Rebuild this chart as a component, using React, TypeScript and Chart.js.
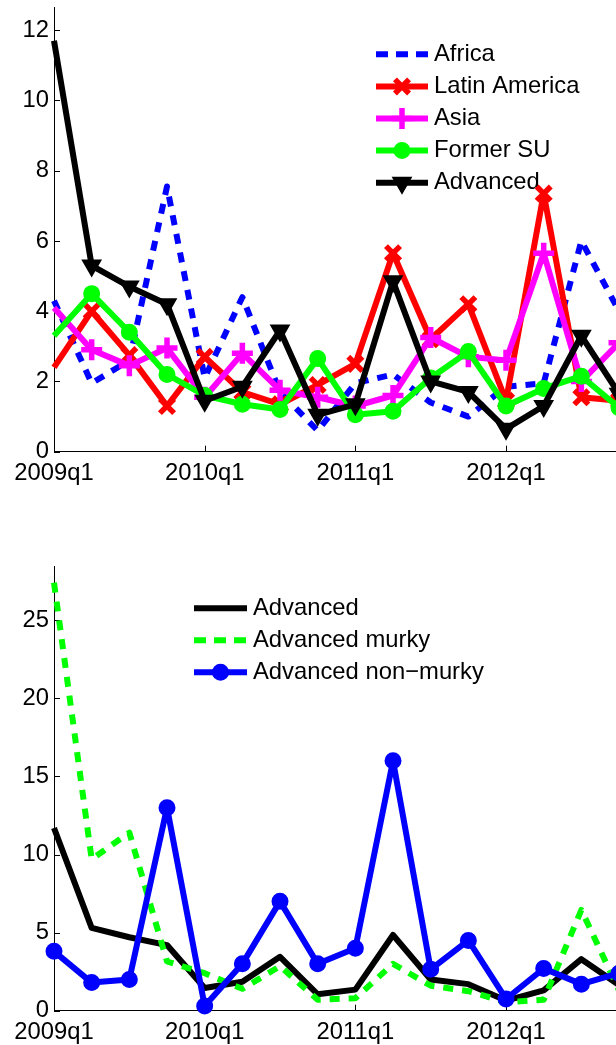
import React, { useEffect, useRef } from 'react';
import { Chart, registerables } from 'chart.js';

Chart.register(...registerables);

// ---------------- data ----------------
const quarters = [
  '2009q1', '2009q2', '2009q3', '2009q4',
  '2010q1', '2010q2', '2010q3', '2010q4',
  '2011q1', '2011q2', '2011q3', '2011q4',
  '2012q1', '2012q2', '2012q3', '2012q4',
];
const xTickPositions = [0, 4, 8, 12];
const xTickLabels = ['2009q1', '2010q1', '2011q1', '2012q1'];
const topYTicks = [0, 2, 4, 6, 8, 10, 12];
const bottomYTicks = [0, 5, 10, 15, 20, 25];

const africa = [4.3, 1.95, 2.6, 7.55, 2.1, 4.4, 1.7, 0.6, 1.95, 2.2, 1.4, 1.0, 1.85, 1.95, 6.0, 4.0];
const latinAmerica = [2.4, 4.0, 2.75, 1.3, 2.7, 1.7, 1.35, 1.9, 2.5, 5.65, 3.2, 4.2, 1.45, 7.35, 1.55, 1.45];
const asia = [4.1, 2.9, 2.45, 2.95, 1.55, 2.8, 1.75, 1.55, 1.3, 1.6, 3.25, 2.7, 2.6, 5.65, 2.0, 3.1];
const formerSU = [3.3, 4.5, 3.4, 2.2, 1.6, 1.35, 1.2, 2.65, 1.05, 1.15, 2.1, 2.85, 1.3, 1.8, 2.15, 1.25];
const advanced = [11.7, 5.3, 4.7, 4.2, 1.45, 1.85, 3.45, 1.05, 1.35, 4.85, 2.0, 1.7, 0.65, 1.3, 3.3, 1.65];
const advancedMurky = [27.4, 9.7, 11.4, 3.15, 2.4, 1.4, 2.85, 0.7, 0.8, 3.0, 1.6, 1.25, 0.55, 0.7, 6.45, 1.3];
const advancedNonMurky = [3.8, 1.8, 2.0, 13.0, 0.3, 3.0, 7.0, 3.0, 4.0, 16.0, 2.65, 4.5, 0.75, 2.7, 1.7, 2.4];

// ---------------- styling ----------------
const FONT_FAMILY = "'Liberation Sans', Arial, Helvetica, sans-serif";
const FONT_SIZE = 23.8;
const AXIS_COLOR = '#000000';
const TICK_LEN = 6;
const LINE_W = 6;

const toXY = (vals: number[]) => vals.map((v, i) => ({ x: i, y: v }));

function drawMarker(ctx: CanvasRenderingContext2D, style: string, x: number, y: number, r: number, bw: number, color: string, rotation: number) {
  ctx.save();
  ctx.lineWidth = bw;
  ctx.strokeStyle = color;
  ctx.fillStyle = color;
  ctx.setLineDash([]);
  ctx.beginPath();
  if (style === 'circle') {
    ctx.arc(x, y, r, 0, Math.PI * 2);
    ctx.fill();
    ctx.stroke();
  } else if (style === 'crossRot') {
    const d = r * Math.SQRT1_2;
    ctx.moveTo(x - d, y - d); ctx.lineTo(x + d, y + d);
    ctx.moveTo(x - d, y + d); ctx.lineTo(x + d, y - d);
    ctx.stroke();
  } else if (style === 'cross') {
    ctx.moveTo(x - r, y); ctx.lineTo(x + r, y);
    ctx.moveTo(x, y - r); ctx.lineTo(x, y + r);
    ctx.stroke();
  } else if (style === 'triangle') {
    let a = (rotation * Math.PI) / 180;
    for (let k = 0; k < 3; k++) {
      const px = x + Math.sin(a) * r;
      const py = y - Math.cos(a) * r;
      if (k === 0) ctx.moveTo(px, py); else ctx.lineTo(px, py);
      a += (2 * Math.PI) / 3;
    }
    ctx.closePath();
    ctx.fill();
    ctx.stroke();
  }
  ctx.restore();
}

const inwardTicks = {
  id: 'inwardTicks',
  beforeDatasetsDraw(chart: any) {
    const { ctx, chartArea, scales } = chart;
    ctx.save();
    ctx.strokeStyle = AXIS_COLOR;
    ctx.lineWidth = 1;
    ctx.beginPath();
    scales.x.ticks.forEach((t: any) => {
      const px = Math.round(scales.x.getPixelForValue(t.value)) + 0.5;
      ctx.moveTo(px, chartArea.bottom);
      ctx.lineTo(px, chartArea.bottom - TICK_LEN);
    });
    scales.y.ticks.forEach((t: any) => {
      const py = Math.round(scales.y.getPixelForValue(t.value)) + 0.5;
      ctx.moveTo(chartArea.left, py);
      ctx.lineTo(chartArea.left + TICK_LEN, py);
    });
    ctx.stroke();
    ctx.restore();
  },
};

const inlineLegend = {
  id: 'inlineLegend',
  beforeDatasetsDraw(chart: any, _args: any, opts: any) {
    const { ctx } = chart;
    const { x, y, rowH, sampleW, gap } = opts;
    chart.data.datasets.forEach((ds: any, i: number) => {
      const cy = y + i * rowH;
      ctx.save();
      ctx.strokeStyle = ds.borderColor;
      ctx.lineWidth = ds.borderWidth;
      ctx.lineCap = 'butt';
      ctx.setLineDash(ds.legendDash || []);
      ctx.beginPath();
      ctx.moveTo(x, cy);
      ctx.lineTo(x + sampleW, cy);
      ctx.stroke();
      ctx.restore();
      if (ds.legendRadius) {
        drawMarker(ctx, ds.pointStyle, x + sampleW / 2, cy, ds.legendRadius, ds.pointBorderWidth, ds.borderColor, ds.pointRotation || 0);
      }
      ctx.save();
      ctx.fillStyle = '#000';
      ctx.font = `${FONT_SIZE}px ${FONT_FAMILY}`;
      ctx.textBaseline = 'middle';
      ctx.textAlign = 'left';
      ctx.fillText(ds.label, x + sampleW + gap, cy);
      ctx.restore();
    });
  },
};

function lineDs(label: string, values: number[], color: string, order: number, extra: any = {}) {
  return {
    label,
    data: toXY(values),
    borderColor: color,
    backgroundColor: color,
    pointBackgroundColor: color,
    pointBorderColor: color,
    borderWidth: LINE_W,
    borderCapStyle: 'butt',
    borderJoinStyle: 'round',
    tension: 0,
    pointRadius: 0,
    pointHoverRadius: 0,
    clip: false,
    order,
    ...extra,
  };
}

function markerOpts(style: string, r: number, bw: number, skipFirst: boolean, rotation = 0) {
  return {
    pointStyle: style,
    pointRadius: (c: any) => (skipFirst && c.dataIndex === 0 ? 0 : r),
    pointBorderWidth: bw,
    pointRotation: rotation,
    legendRadius: r,
  };
}

function makeOptions(yMax: number, yTicks: number[], xAxisHeight: number, padTop: number, legend: any) {
  return {
    responsive: false,
    maintainAspectRatio: false,
    animation: false,
    events: [],
    layout: { autoPadding: false, padding: { top: padTop, right: 23.3, left: 0, bottom: 0 } },
    plugins: {
      legend: { display: false },
      tooltip: { enabled: false },
      inlineLegend: legend,
    },
    scales: {
      x: {
        type: 'linear',
        min: 0,
        max: 16,
        grid: { display: false, drawTicks: false },
        border: { display: true, color: AXIS_COLOR, width: 1 },
        afterBuildTicks: (s: any) => { s.ticks = xTickPositions.map((v) => ({ value: v })); },
        afterFit: (s: any) => {
          s.height = xAxisHeight;
          s.paddingLeft = 0; s.paddingRight = 0; s.paddingTop = 0; s.paddingBottom = 0;
        },
        ticks: {
          autoSkip: false,
          maxRotation: 0,
          padding: 7,
          color: '#000',
          font: { family: FONT_FAMILY, size: FONT_SIZE },
          callback: (v: any) => xTickLabels[xTickPositions.indexOf(v)] ?? '',
        },
      },
      y: {
        type: 'linear',
        min: 0,
        max: yMax,
        grid: { display: false, drawTicks: false },
        border: { display: true, color: AXIS_COLOR, width: 1 },
        afterBuildTicks: (s: any) => { s.ticks = yTicks.map((v) => ({ value: v })); },
        afterFit: (s: any) => {
          s.width = 54;
          s.paddingLeft = 0; s.paddingRight = 0; s.paddingTop = 0; s.paddingBottom = 0;
        },
        ticks: {
          padding: 5,
          color: '#000',
          font: { family: FONT_FAMILY, size: FONT_SIZE },
          callback: (v: any) => String(v),
        },
      },
    },
  };
}

export default function App() {
  const topRef = useRef<HTMLCanvasElement | null>(null);
  const botRef = useRef<HTMLCanvasElement | null>(null);

  useEffect(() => {
    const topChart = new Chart(topRef.current as HTMLCanvasElement, {
      type: 'line',
      data: {
        labels: quarters,
        datasets: [
          lineDs('Africa', africa, '#0000ff', 5, { borderDash: [10, 9], legendDash: [12, 8] }),
          lineDs('Latin America', latinAmerica, '#ff0000', 4, markerOpts('crossRot', 10, 5.5, true)),
          lineDs('Asia', asia, '#ff00ff', 3, markerOpts('cross', 10.5, 5.5, true)),
          lineDs('Former SU', formerSU, '#00ff00', 2, markerOpts('circle', 7.5, 2, true)),
          lineDs('Advanced', advanced, '#000000', 1, markerOpts('triangle', 10, 2, true, 180)),
        ] as any,
      },
      options: makeOptions(12.66, topYTicks, 48.3, 7, { x: 376, y: 54.3, rowH: 32.1, sampleW: 52, gap: 6 }) as any,
      plugins: [inwardTicks, inlineLegend],
    });

    const botChart = new Chart(botRef.current as HTMLCanvasElement, {
      type: 'line',
      data: {
        labels: quarters,
        datasets: [
          lineDs('Advanced', advanced, '#000000', 3),
          lineDs('Advanced murky', advancedMurky, '#00ff00', 2, { borderDash: [10, 9], legendDash: [12, 8] }),
          lineDs('Advanced non\u2212murky', advancedNonMurky, '#0000ff', 1, markerOpts('circle', 7.5, 2, false)),
        ] as any,
      },
      options: makeOptions(28.47, bottomYTicks, 34.3, 46, { x: 194, y: 88.3, rowH: 32, sampleW: 53, gap: 6 }) as any,
      plugins: [inwardTicks, inlineLegend],
    });

    return () => {
      topChart.destroy();
      botChart.destroy();
    };
  }, []);

  return (
    <div style={{ position: 'fixed', left: 0, top: 0, width: 616, height: 1045, overflow: 'hidden', background: '#fff' }}>
      <canvas ref={topRef} width={680} height={500} style={{ position: 'absolute', left: 0, top: 0, width: 680, height: 500 }} />
      <canvas ref={botRef} width={680} height={525} style={{ position: 'absolute', left: 0, top: 520, width: 680, height: 525 }} />
    </div>
  );
}
